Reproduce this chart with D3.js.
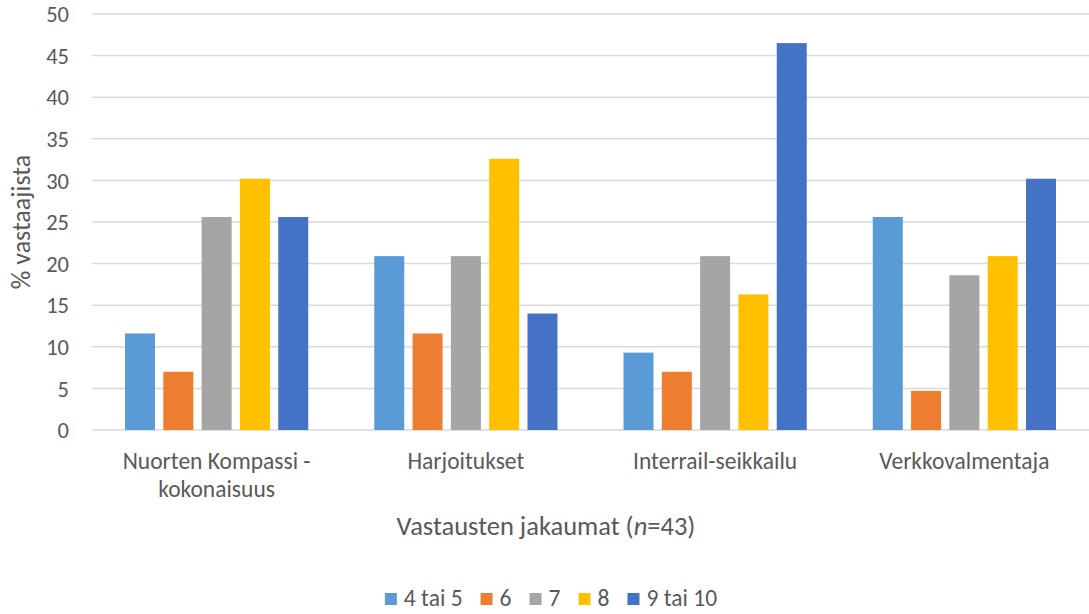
<!DOCTYPE html>
<html>
<head>
<meta charset="utf-8">
<script src="https://cdn.jsdelivr.net/npm/d3@7"></script>
<style>
  html, body { margin: 0; padding: 0; background: #fff; }
  svg { display: block; font-family: Carlito, Calibri, Lato, "Open Sans", sans-serif; }
</style>
</head>
<body>
<svg id="chart" width="1089" height="614"></svg>
<script>
// Response distributions (% of respondents, n = 43)
const categories = [["Nuorten Kompassi -", "kokonaisuus"], ["Harjoitukset"], ["Interrail-seikkailu"], ["Verkkovalmentaja"]];
const seriesNames = ["4 tai 5", "6", "7", "8", "9 tai 10"];
const seriesColors = ["#5B9BD5", "#ED7D31", "#A5A5A5", "#FFC000", "#4472C4"];
const values45 = [11.6, 20.9, 9.3, 25.6];
const values6 = [7.0, 11.6, 7.0, 4.7];
const values7 = [25.6, 20.9, 20.9, 18.6];
const values8 = [30.2, 32.6, 16.3, 20.9];
const values910 = [25.6, 14.0, 46.5, 30.2];
const yTicks = [0, 5, 10, 15, 20, 25, 30, 35, 40, 45, 50];

const seriesValues = [values45, values6, values7, values8, values910];

const svg = d3.select("#chart");
const plotLeft = 92, plotRight = 1089, plotTop = 14, plotBottom = 430;
const textColor = "#595959";

const x0 = d3.scaleBand().domain(d3.range(categories.length)).range([plotLeft, plotRight]).paddingInner(0).paddingOuter(0);
const x1 = d3.scaleBand().domain(d3.range(seriesNames.length)).range([0, x0.bandwidth()])
  .paddingInner(0.217).paddingOuter(0.862);
const y = d3.scaleLinear().domain([0, 50]).range([plotBottom, plotTop]);

// Gridlines
svg.append("g")
  .selectAll("line")
  .data(yTicks)
  .join("line")
  .attr("x1", plotLeft).attr("x2", plotRight)
  .attr("y1", d => y(d)).attr("y2", d => y(d))
  .attr("stroke", "#d9d9d9").attr("stroke-width", 1.5);

// Y axis tick labels
const yAxis = d3.axisLeft(y).tickValues(yTicks).tickSize(0).tickPadding(0);
const yg = svg.append("g").attr("transform", `translate(${plotLeft - 23},0)`).call(yAxis);
yg.select(".domain").remove();
yg.attr("font-family", null).attr("font-size", null);
yg.selectAll("text").attr("font-size", 22.5).attr("fill", textColor).attr("dy", "0.34em");

// Bars
const groups = svg.append("g")
  .selectAll("g")
  .data(categories.map((c, i) => i))
  .join("g")
  .attr("transform", i => `translate(${x0(i)},0)`);

groups.selectAll("rect")
  .data(i => seriesValues.map((vals, s) => ({ s, v: vals[i] })))
  .join("rect")
  .attr("x", d => x1(d.s))
  .attr("width", x1.bandwidth())
  .attr("y", d => y(d.v))
  .attr("height", d => y(0) - y(d.v))
  .attr("fill", d => seriesColors[d.s]);

// Category labels
const catLabels = svg.append("g")
  .selectAll("text")
  .data(categories)
  .join("text")
  .attr("x", (d, i) => x0(i) + x0.bandwidth() / 2)
  .attr("y", 469)
  .attr("text-anchor", "middle")
  .attr("font-size", 23.5)
  .attr("fill", textColor);
catLabels.selectAll("tspan")
  .data(d => d)
  .join("tspan")
  .attr("x", function () { return d3.select(this.parentNode).attr("x"); })
  .attr("dy", (d, i) => i === 0 ? 0 : 28)
  .text(d => d);

// Axis titles
svg.append("text")
  .attr("transform", `translate(30,${(plotTop + plotBottom) / 2}) rotate(-90)`)
  .attr("text-anchor", "middle")
  .attr("font-size", 26)
  .attr("fill", textColor)
  .text("% vastaajista");

const xt = svg.append("text")
  .attr("x", 546).attr("y", 535)
  .attr("text-anchor", "middle")
  .attr("font-size", 26.5)
  .attr("fill", textColor);
xt.append("tspan").text("Vastausten jakaumat (");
xt.append("tspan").attr("font-style", "italic").text("n");
xt.append("tspan").text("=43)");

// Legend
const legend = svg.append("g").attr("transform", "translate(0,606)");
const items = legend.selectAll("g").data(seriesNames).join("g");
items.append("rect")
  .attr("y", -13).attr("width", 12).attr("height", 12)
  .attr("fill", (d, i) => seriesColors[i]);
items.append("text")
  .attr("x", 19).attr("y", 0)
  .attr("font-size", 23.5)
  .attr("fill", textColor)
  .text(d => d);
const widths = [];
items.each(function () { widths.push(this.getBBox().width); });
const gap = 18;
const total = d3.sum(widths) + gap * (widths.length - 1);
let cursor = 551 - total / 2;
items.attr("transform", (d, i) => {
  const pos = cursor;
  cursor += widths[i] + gap;
  return `translate(${pos},0)`;
});
</script>
</body>
</html>
